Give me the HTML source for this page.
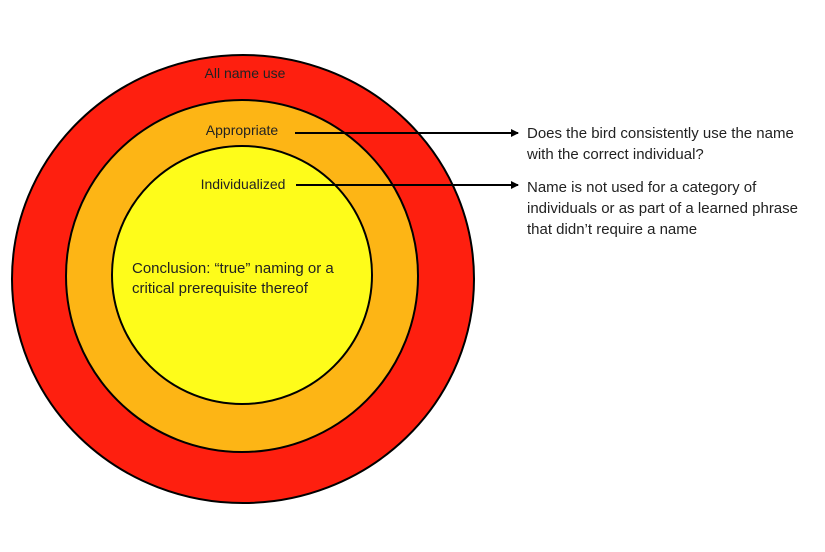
<!DOCTYPE html>
<html><head><meta charset="utf-8"><style>
html,body{margin:0;padding:0;background:#fff;}
svg{display:block;font-family:"Liberation Sans",sans-serif;}
</style></head><body>
<svg width="825" height="552" viewBox="0 0 825 552" xmlns="http://www.w3.org/2000/svg">
<defs><marker id="a" markerWidth="8" markerHeight="8" refX="7" refY="4" orient="auto" markerUnits="userSpaceOnUse"><path d="M0,0 L8,4 L0,8 z" fill="#000"/></marker></defs>
<ellipse cx="243" cy="279" rx="231" ry="224" fill="#fe1f0f" stroke="#000" stroke-width="2"/>
<ellipse cx="242" cy="276" rx="176" ry="176" fill="#fdb515" stroke="#000" stroke-width="2"/>
<ellipse cx="242" cy="275" rx="130" ry="129" fill="#fefc1a" stroke="#000" stroke-width="2"/>
<g font-size="14" fill="#222">
<text x="245" y="78" text-anchor="middle">All name use</text>
<text x="242" y="135" text-anchor="middle">Appropriate</text>
<text x="243" y="189" text-anchor="middle">Individualized</text>
</g>
<g font-size="15" fill="#222">
<text x="132" y="273">Conclusion: “true” naming or a</text>
<text x="132" y="293">critical prerequisite thereof</text>
<text x="527" y="138">Does the bird consistently use the name</text>
<text x="527" y="159">with the correct individual?</text>
<text x="527" y="192">Name is not used for a category of</text>
<text x="527" y="213">individuals or as part of a learned phrase</text>
<text x="527" y="234">that didn’t require a name</text>
</g>
<line x1="295" y1="133" x2="518" y2="133" stroke="#000" stroke-width="2" marker-end="url(#a)"/>
<line x1="296" y1="185" x2="518" y2="185" stroke="#000" stroke-width="2" marker-end="url(#a)"/>
</svg>
</body></html>
